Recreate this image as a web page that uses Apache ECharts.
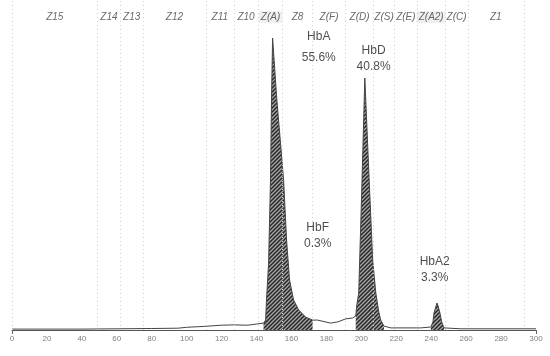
<!DOCTYPE html>
<html><head><meta charset="utf-8">
<script src="https://cdn.jsdelivr.net/npm/echarts@6/dist/echarts.min.js"></script>
<style>html,body{margin:0;padding:0;background:#fff}#c{width:550px;height:356px}</style>
</head><body><div id="c"></div>
<script>
// Electrophoresis trace (migration position, signal)
const traceX = [0,20,40,60,80,95,100,110,120,127,135,140,144,145.2,145.7,146.9,148,148.6,149.2,151.5,155.5,157.2,158.9,161.2,164.1,168.1,172.1,175,182.4,186.5,191,195,196.8,197.4,198.5,200.2,202,204.8,206.5,208.3,210,211.1,212.9,216.9,234,239.8,241,241.6,243.3,243.8,245,246,247.3,257,300];
const traceY = [0.3,0.3,0.3,0.4,0.5,0.6,0.9,1.2,1.6,1.7,1.6,2.0,2.3,3.3,10,22.3,50,77.7,97.3,77.7,50,30,16.7,10,6.7,4.3,3.3,3.3,2.3,2.7,3.7,4.0,4.7,8.3,12.3,45.7,84,45.7,23.3,12.3,6,3.3,1.3,0.7,0.7,1,2.7,5.7,9,8.3,5.7,2.7,0.7,0.4,0.4];
// hatched peak windows
const peakWindows = [[144,172.1],[196.8,212.9],[239.8,247.3]];
// zones
const zoneBounds = [0,49,62,75,111,127,141,155,172,191,207,219,232,248,261,293];
const zoneNames = ['Z15','Z14','Z13','Z12','Z11','Z10','Z(A)','Z8','Z(F)','Z(D)','Z(S)','Z(E)','Z(A2)','Z(C)','Z1'];
// peak annotations
const peakNames = ['HbA','HbD','HbF','HbA2'];
const peakPercents = ['55.6%','40.8%','0.3%','3.3%'];
const peakLabelX = [175.6,207,175,242];
const peakLabelY = [94.2,90.5,31.5,20.2];
const xTicks = {min:0,max:300,interval:20};

const trace = traceX.map((x,i)=>[x,traceY[i]]);

// hatch pattern
const pc = document.createElement('canvas');
pc.width = 4; pc.height = 4;
const g = pc.getContext('2d');
g.fillStyle = '#a8a8a8'; g.fillRect(0,0,4,4);
g.strokeStyle = '#262626'; g.lineWidth = 1.5;
g.beginPath(); g.moveTo(-1,5); g.lineTo(5,-1); g.moveTo(-1,1); g.lineTo(1,-1); g.moveTo(3,5); g.lineTo(5,3); g.stroke();

const peakSeries = peakWindows.map(w=>({
  type:'line', data: trace.filter(p=>p[0]>=w[0]&&p[0]<=w[1]),
  symbol:'none', lineStyle:{width:0}, silent:true, z:2,
  areaStyle:{color:{image:pc, repeat:'repeat'}, opacity:1}
}));

const zoneLabelData = zoneNames.map((n,i)=>({
  value:[(zoneBounds[i]+zoneBounds[i+1])/2, 104.3], name:n,
  label: n.startsWith('Z(A') ? {backgroundColor:'#ececec', padding:[1,2]} : {}
}));

const chart = echarts.init(document.getElementById('c'), null, {renderer:'canvas'});
chart.setOption({
  animation:false,
  backgroundColor:'#fff',
  grid:{left:12, right:14, top:0, bottom:26},
  xAxis:{type:'value', min:xTicks.min, max:xTicks.max, interval:xTicks.interval,
    axisLine:{lineStyle:{color:'#555', width:1}},
    axisTick:{show:true, customValues:[xTicks.min, xTicks.max], length:4, lineStyle:{color:'#666'}},
    splitLine:{show:false},
    axisLabel:{fontSize:8, color:'#808080', margin:5, fontFamily:'Liberation Sans'}},
  yAxis:{type:'value', min:0, max:110, show:false, splitLine:{show:false}},
  series:[
    {type:'line', data:[], symbol:'none', z:1,
      markLine:{silent:true, symbol:'none', label:{show:false},
        lineStyle:{type:[1,3], color:'#cfcfcf', width:1},
        data: zoneBounds.map(v=>({xAxis:v}))}},
    ...peakSeries,
    {type:'line', data:trace, symbol:'none', z:3,
      lineStyle:{color:'#444', width:1}},
    {type:'scatter', data:zoneLabelData, symbolSize:0, z:4,
      label:{show:true, position:'inside', formatter:p=>p.name, fontSize:10, fontStyle:'italic',
        color:'#444', fontFamily:'Liberation Sans'}},
    {type:'scatter', symbolSize:0, z:5,
      data: peakNames.map((n,i)=>({value:[peakLabelX[i],peakLabelY[i]], name:n, pct:peakPercents[i],
        label:{lineHeight: i===0?21:16}})),
      label:{show:true, position:'inside', formatter:p=>p.data.name+'\n'+p.data.pct,
        fontSize:12, color:'#222', fontFamily:'Liberation Sans', align:'center'}}
  ]
});
</script></body></html>
